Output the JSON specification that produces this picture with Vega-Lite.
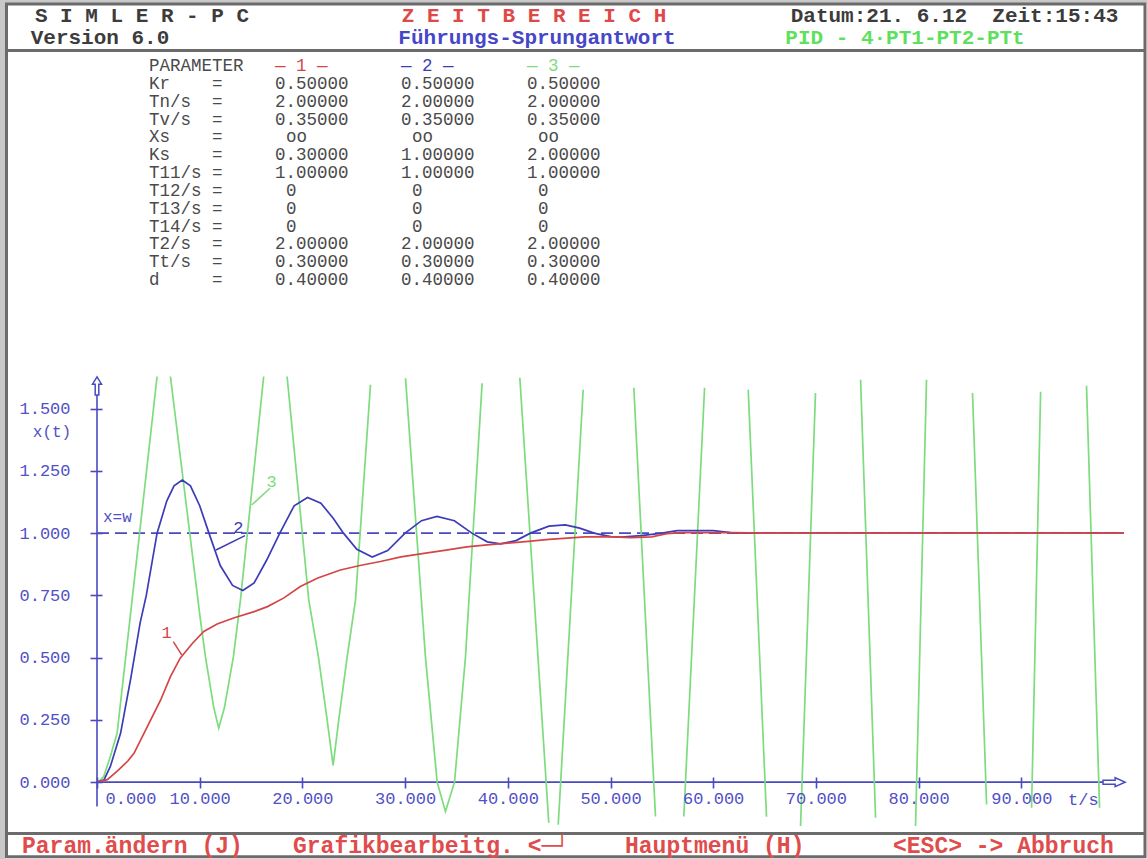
{
  "$schema": "https://vega.github.io/schema/vega-lite/v6.json",
  "width": 1027,
  "height": 450,
  "autosize": {"type": "none"},
  "padding": {"left": 97, "top": 376, "right": 23, "bottom": 33},
  "background": "white",
  "config": {"view": {"stroke": null}},
  "datasets": {
    "curves": [
      {"series": "3", "t": 0, "value": 0},
      {"series": "3", "t": 0.33, "value": 0.009},
      {"series": "3", "t": 0.65, "value": 0.022},
      {"series": "3", "t": 1.3, "value": 0.103},
      {"series": "3", "t": 1.96, "value": 0.197},
      {"series": "3", "t": 3.42, "value": 0.732},
      {"series": "3", "t": 5.85, "value": 1.629},
      {"series": "3", "t": 6.5, "value": null},
      {"series": "3", "t": 7.15, "value": 1.629},
      {"series": "3", "t": 10.07, "value": 0.652},
      {"series": "3", "t": 10.56, "value": 0.503},
      {"series": "3", "t": 11.37, "value": 0.3},
      {"series": "3", "t": 11.85, "value": 0.217},
      {"series": "3", "t": 12.41, "value": 0.3},
      {"series": "3", "t": 13.28, "value": 0.503},
      {"series": "3", "t": 13.97, "value": 0.732},
      {"series": "3", "t": 16.23, "value": 1.629},
      {"series": "3", "t": 17.37, "value": null},
      {"series": "3", "t": 18.51, "value": 1.629},
      {"series": "3", "t": 20.62, "value": 0.732},
      {"series": "3", "t": 21.56, "value": 0.503},
      {"series": "3", "t": 22.41, "value": 0.25},
      {"series": "3", "t": 22.99, "value": 0.067},
      {"series": "3", "t": 23.54, "value": 0.25},
      {"series": "3", "t": 24.36, "value": 0.503},
      {"series": "3", "t": 25.17, "value": 0.732},
      {"series": "3", "t": 26.63, "value": 1.596},
      {"series": "3", "t": 28.33, "value": null},
      {"series": "3", "t": 30.04, "value": 1.622},
      {"series": "3", "t": 31.98, "value": 0.503},
      {"series": "3", "t": 33.12, "value": 0},
      {"series": "3", "t": 33.93, "value": -0.118},
      {"series": "3", "t": 34.81, "value": 0},
      {"series": "3", "t": 35.88, "value": 0.503},
      {"series": "3", "t": 37.5, "value": 1.602},
      {"series": "3", "t": 39.34, "value": null},
      {"series": "3", "t": 41.17, "value": 1.624},
      {"series": "3", "t": 43.99, "value": -0.163},
      {"series": "3", "t": 44.45, "value": null},
      {"series": "3", "t": 44.91, "value": -0.171},
      {"series": "3", "t": 47.34, "value": 1.576},
      {"series": "3", "t": 50.29, "value": null},
      {"series": "3", "t": 52.27, "value": 1.584},
      {"series": "3", "t": 54.38, "value": -0.138},
      {"series": "3", "t": 55.75, "value": null},
      {"series": "3", "t": 57.14, "value": -0.138},
      {"series": "3", "t": 59.16, "value": 1.584},
      {"series": "3", "t": 61.29, "value": null},
      {"series": "3", "t": 63.41, "value": 1.576},
      {"series": "3", "t": 65.19, "value": -0.139},
      {"series": "3", "t": 66.8, "value": null},
      {"series": "3", "t": 68.5, "value": -0.183},
      {"series": "3", "t": 69.96, "value": 1.563},
      {"series": "3", "t": 72.3, "value": null},
      {"series": "3", "t": 74.35, "value": 1.616},
      {"series": "3", "t": 75.81, "value": -0.143},
      {"series": "3", "t": 77.8, "value": null},
      {"series": "3", "t": 79.7, "value": -0.179},
      {"series": "3", "t": 80.77, "value": 1.616},
      {"series": "3", "t": 83.2, "value": null},
      {"series": "3", "t": 85.25, "value": 1.563},
      {"series": "3", "t": 86.62, "value": -0.09},
      {"series": "3", "t": 88.8, "value": null},
      {"series": "3", "t": 91.0, "value": -0.103},
      {"series": "3", "t": 91.88, "value": 1.568},
      {"series": "3", "t": 94.2, "value": null},
      {"series": "3", "t": 96.35, "value": 1.592},
      {"series": "3", "t": 97.62, "value": -0.103},
      {"series": "2", "t": 0, "value": 0},
      {"series": "2", "t": 0.7, "value": 0.01},
      {"series": "2", "t": 1.3, "value": 0.063},
      {"series": "2", "t": 2.3, "value": 0.197},
      {"series": "2", "t": 3.3, "value": 0.42},
      {"series": "2", "t": 4.2, "value": 0.64},
      {"series": "2", "t": 4.8, "value": 0.75},
      {"series": "2", "t": 5.85, "value": 1.0},
      {"series": "2", "t": 6.8, "value": 1.13},
      {"series": "2", "t": 7.5, "value": 1.19},
      {"series": "2", "t": 8.3, "value": 1.213},
      {"series": "2", "t": 9.1, "value": 1.19},
      {"series": "2", "t": 10.0, "value": 1.11},
      {"series": "2", "t": 10.9, "value": 1.0},
      {"series": "2", "t": 12.0, "value": 0.87},
      {"series": "2", "t": 13.2, "value": 0.79},
      {"series": "2", "t": 14.2, "value": 0.77},
      {"series": "2", "t": 15.3, "value": 0.8},
      {"series": "2", "t": 16.5, "value": 0.89},
      {"series": "2", "t": 17.8, "value": 1.0},
      {"series": "2", "t": 19.2, "value": 1.11},
      {"series": "2", "t": 20.5, "value": 1.143},
      {"series": "2", "t": 21.8, "value": 1.12},
      {"series": "2", "t": 23.0, "value": 1.06},
      {"series": "2", "t": 24.0, "value": 1.0},
      {"series": "2", "t": 25.3, "value": 0.935},
      {"series": "2", "t": 26.8, "value": 0.904},
      {"series": "2", "t": 28.3, "value": 0.93},
      {"series": "2", "t": 30.0, "value": 1.0},
      {"series": "2", "t": 31.6, "value": 1.05},
      {"series": "2", "t": 33.1, "value": 1.067},
      {"series": "2", "t": 34.8, "value": 1.05},
      {"series": "2", "t": 36.5, "value": 1.0},
      {"series": "2", "t": 38.0, "value": 0.965},
      {"series": "2", "t": 39.3, "value": 0.957},
      {"series": "2", "t": 40.8, "value": 0.97},
      {"series": "2", "t": 42.2, "value": 1.0},
      {"series": "2", "t": 44.0, "value": 1.028},
      {"series": "2", "t": 45.6, "value": 1.033},
      {"series": "2", "t": 47.0, "value": 1.02},
      {"series": "2", "t": 48.4, "value": 1.0},
      {"series": "2", "t": 50.0, "value": 0.986},
      {"series": "2", "t": 51.0, "value": 0.984},
      {"series": "2", "t": 53.0, "value": 0.99},
      {"series": "2", "t": 55.0, "value": 1.0},
      {"series": "2", "t": 56.5, "value": 1.01},
      {"series": "2", "t": 60.0, "value": 1.01},
      {"series": "2", "t": 61.7, "value": 1.002},
      {"series": "2", "t": 63.0, "value": 1.0},
      {"series": "2", "t": 70.0, "value": 1.0},
      {"series": "2", "t": 80.0, "value": 1.0},
      {"series": "2", "t": 90.0, "value": 1.0},
      {"series": "2", "t": 100.0, "value": 1.0},
      {"series": "1", "t": 0, "value": 0},
      {"series": "1", "t": 1.0, "value": 0.01},
      {"series": "1", "t": 2.0, "value": 0.045},
      {"series": "1", "t": 3.0, "value": 0.085},
      {"series": "1", "t": 3.6, "value": 0.116},
      {"series": "1", "t": 4.9, "value": 0.223},
      {"series": "1", "t": 6.2, "value": 0.33},
      {"series": "1", "t": 7.15, "value": 0.424},
      {"series": "1", "t": 8.1, "value": 0.498},
      {"series": "1", "t": 9.3, "value": 0.558},
      {"series": "1", "t": 10.4, "value": 0.605},
      {"series": "1", "t": 11.7, "value": 0.635},
      {"series": "1", "t": 13.3, "value": 0.659},
      {"series": "1", "t": 15.3, "value": 0.685},
      {"series": "1", "t": 16.6, "value": 0.705},
      {"series": "1", "t": 18.2, "value": 0.74},
      {"series": "1", "t": 19.8, "value": 0.786},
      {"series": "1", "t": 21.5, "value": 0.82},
      {"series": "1", "t": 23.7, "value": 0.852},
      {"series": "1", "t": 25.6, "value": 0.87},
      {"series": "1", "t": 27.6, "value": 0.886},
      {"series": "1", "t": 29.6, "value": 0.905},
      {"series": "1", "t": 32.0, "value": 0.92},
      {"series": "1", "t": 34.0, "value": 0.932},
      {"series": "1", "t": 36.0, "value": 0.945},
      {"series": "1", "t": 38.0, "value": 0.953},
      {"series": "1", "t": 40.0, "value": 0.96},
      {"series": "1", "t": 42.0, "value": 0.967},
      {"series": "1", "t": 44.0, "value": 0.975},
      {"series": "1", "t": 45.8, "value": 0.98},
      {"series": "1", "t": 47.5, "value": 0.985},
      {"series": "1", "t": 49.7, "value": 0.986},
      {"series": "1", "t": 52.0, "value": 0.982},
      {"series": "1", "t": 54.0, "value": 0.985},
      {"series": "1", "t": 55.5, "value": 0.998},
      {"series": "1", "t": 57.0, "value": 1.002},
      {"series": "1", "t": 62.0, "value": 1.002},
      {"series": "1", "t": 65.0, "value": 1.0},
      {"series": "1", "t": 75.0, "value": 1.0},
      {"series": "1", "t": 85.0, "value": 1.0},
      {"series": "1", "t": 100.0, "value": 1.0}
    ],
    "params": [
      {"param": "PARAMETER", "series": "1", "value": "— 1 —"},
      {"param": "PARAMETER", "series": "2", "value": "— 2 —"},
      {"param": "PARAMETER", "series": "3", "value": "— 3 —"},
      {"param": "Kr", "series": "1", "value": "0.50000"},
      {"param": "Kr", "series": "2", "value": "0.50000"},
      {"param": "Kr", "series": "3", "value": "0.50000"},
      {"param": "Tn/s", "series": "1", "value": "2.00000"},
      {"param": "Tn/s", "series": "2", "value": "2.00000"},
      {"param": "Tn/s", "series": "3", "value": "2.00000"},
      {"param": "Tv/s", "series": "1", "value": "0.35000"},
      {"param": "Tv/s", "series": "2", "value": "0.35000"},
      {"param": "Tv/s", "series": "3", "value": "0.35000"},
      {"param": "Xs", "series": "1", "value": "oo"},
      {"param": "Xs", "series": "2", "value": "oo"},
      {"param": "Xs", "series": "3", "value": "oo"},
      {"param": "Ks", "series": "1", "value": "0.30000"},
      {"param": "Ks", "series": "2", "value": "1.00000"},
      {"param": "Ks", "series": "3", "value": "2.00000"},
      {"param": "T11/s", "series": "1", "value": "1.00000"},
      {"param": "T11/s", "series": "2", "value": "1.00000"},
      {"param": "T11/s", "series": "3", "value": "1.00000"},
      {"param": "T12/s", "series": "1", "value": "0"},
      {"param": "T12/s", "series": "2", "value": "0"},
      {"param": "T12/s", "series": "3", "value": "0"},
      {"param": "T13/s", "series": "1", "value": "0"},
      {"param": "T13/s", "series": "2", "value": "0"},
      {"param": "T13/s", "series": "3", "value": "0"},
      {"param": "T14/s", "series": "1", "value": "0"},
      {"param": "T14/s", "series": "2", "value": "0"},
      {"param": "T14/s", "series": "3", "value": "0"},
      {"param": "T2/s", "series": "1", "value": "2.00000"},
      {"param": "T2/s", "series": "2", "value": "2.00000"},
      {"param": "T2/s", "series": "3", "value": "2.00000"},
      {"param": "Tt/s", "series": "1", "value": "0.30000"},
      {"param": "Tt/s", "series": "2", "value": "0.30000"},
      {"param": "Tt/s", "series": "3", "value": "0.30000"},
      {"param": "d", "series": "1", "value": "0.40000"},
      {"param": "d", "series": "2", "value": "0.40000"},
      {"param": "d", "series": "3", "value": "0.40000"}
    ]
  },
  "layer": [
    {
      "layer": [
        {"data": {"values": [{}]}, "mark": {"type": "rule", "color": "#c8c8c8", "strokeWidth": 5},
         "encoding": {
           "x": {"datum": -9.201,
                 "axis": {"zindex": 2, "values": [0, 10, 20, 30, 40, 50, 60, 70, 80, 90], "format": ".3f", "domain": false, "grid": false, "offset": -49, "tickSize": 11, "tickColor": "#4a4ac0", "tickWidth": 1.6, "labelFont": "Liberation Mono", "labelFontSize": 17, "labelColor": "#5050c8", "labelPadding": 2, "labelBaseline": "top", "labelFlush": false, "labelOverlap": false,
                          "labelAlign": {"condition": {"test": "datum.value === 0", "value": "left"}, "value": "center"},
                          "labelOffset": {"condition": {"test": "datum.value === 0", "value": 8}, "value": 0},
                          "title": null}},
           "y": {"datum": 3.135,
                 "axis": {"zindex": 2, "values": [0, 0.25, 0.5, 0.75, 1.0, 1.25, 1.5], "format": ".3f", "domain": false, "grid": false, "offset": -5, "tickSize": 12, "tickColor": "#4a4ac0", "tickWidth": 1.6, "labelFont": "Liberation Mono", "labelFontSize": 17, "labelColor": "#5050c8", "labelPadding": 20, "labelOverlap": false, "title": null}},
           "y2": {"datum": -0.3119}}},
        {"data": {"values": [{}]}, "mark": {"type": "rule", "color": "#c8c8c8", "strokeWidth": 3},
         "encoding": {"x": {"datum": -9.445}, "x2": {"datum": 102.24}, "y": {"datum": 3.135}}},
        {"data": {"values": [{}]}, "mark": {"type": "rect", "fill": null, "stroke": "#6b6b6b", "strokeWidth": 3},
         "encoding": {"x": {"datum": -8.812}, "x2": {"datum": 102.045}, "y": {"datum": 3.1249}, "y2": {"datum": -0.2992}}},
        {"data": {"values": [{}]}, "mark": {"type": "rule", "color": "#6b6b6b", "strokeWidth": 3},
         "encoding": {"x": {"datum": -8.812}, "x2": {"datum": 102.045}, "y": {"datum": 2.9382}}},
        {"data": {"values": [{}]}, "mark": {"type": "rule", "color": "#6b6b6b", "strokeWidth": 3},
         "encoding": {"x": {"datum": -8.812}, "x2": {"datum": 102.045}, "y": {"datum": -0.206}}},
        {"data": {"values": [{}]}, "mark": {"type": "text", "align": "center", "baseline": "middle", "font": "Liberation Mono", "fontSize": 21, "fontWeight": "bold", "color": "#3c3c3c", "text": "S I M L E R - P C"},
         "encoding": {"x": {"datum": 4.382}, "y": {"datum": 3.0747}}},
        {"data": {"values": [{}]}, "mark": {"type": "text", "align": "center", "baseline": "middle", "font": "Liberation Mono", "fontSize": 21, "fontWeight": "bold", "color": "#3c3c3c", "text": "Version 6.0"},
         "encoding": {"x": {"datum": 0.292}, "y": {"datum": 2.9864}}},
        {"data": {"values": [{}]}, "mark": {"type": "text", "align": "center", "baseline": "middle", "font": "Liberation Mono", "fontSize": 21, "fontWeight": "bold", "color": "#e04848", "text": "Z E I T B E R E I C H"},
         "encoding": {"x": {"datum": 42.552}, "y": {"datum": 3.0747}}},
        {"data": {"values": [{}]}, "mark": {"type": "text", "align": "center", "baseline": "middle", "font": "Liberation Mono", "fontSize": 21, "fontWeight": "bold", "color": "#4646c8", "text": "Führungs-Sprungantwort"},
         "encoding": {"x": {"datum": 42.843}, "y": {"datum": 2.9864}}},
        {"data": {"values": [{}]}, "mark": {"type": "text", "align": "center", "baseline": "middle", "font": "Liberation Mono", "fontSize": 21, "fontWeight": "bold", "color": "#3c3c3c", "text": "Datum:21. 6.12\u00a0\u00a0Zeit:15:43"},
         "encoding": {"x": {"datum": 83.496}, "y": {"datum": 3.0747}}},
        {"data": {"values": [{}]}, "mark": {"type": "text", "align": "center", "baseline": "middle", "font": "Liberation Mono", "fontSize": 21, "fontWeight": "bold", "color": "#5ee05e", "text": "PID - 4·PT1-PT2-PTt"},
         "encoding": {"x": {"datum": 78.676}, "y": {"datum": 2.9864}}},
        {"data": {"values": [{}]}, "mark": {"type": "text", "align": "left", "baseline": "middle", "font": "Liberation Mono", "fontSize": 23, "fontWeight": "bold", "color": "#e04c4c", "text": "Param.ändern (J)"},
         "encoding": {"x": {"datum": -7.303}, "y": {"datum": -0.2562}}},
        {"data": {"values": [{}]}, "mark": {"type": "text", "align": "left", "baseline": "middle", "font": "Liberation Mono", "fontSize": 23, "fontWeight": "bold", "color": "#e04c4c", "text": "Grafikbearbeitg. <─┘"},
         "encoding": {"x": {"datum": 19.085}, "y": {"datum": -0.2562}}},
        {"data": {"values": [{}]}, "mark": {"type": "text", "align": "left", "baseline": "middle", "font": "Liberation Mono", "fontSize": 23, "fontWeight": "bold", "color": "#e04c4c", "text": "Hauptmenü (H)"},
         "encoding": {"x": {"datum": 51.412}, "y": {"datum": -0.2562}}},
        {"data": {"values": [{}]}, "mark": {"type": "text", "align": "left", "baseline": "middle", "font": "Liberation Mono", "fontSize": 23, "fontWeight": "bold", "color": "#e04c4c", "text": "<ESC> -> Abbruch"},
         "encoding": {"x": {"datum": 77.507}, "y": {"datum": -0.2562}}},
        {"data": {"values": [{}]}, "mark": {"type": "rule", "color": "#4a4ac0", "strokeWidth": 1.6, "strokeDash": [12, 6]},
         "encoding": {"x": {"datum": 0}, "x2": {"datum": 100}, "y": {"datum": 1}}},
        {"data": {"values": [{}]}, "mark": {"type": "rule", "color": "#4a4ac0", "strokeWidth": 1.6},
         "encoding": {"x": {"datum": 0}, "y": {"datum": -0.098}, "y2": {"datum": 1.555}}},
        {"data": {"values": [{}]}, "mark": {"type": "rule", "color": "#4a4ac0", "strokeWidth": 1.6},
         "encoding": {"x": {"datum": 0}, "x2": {"datum": 97.96}, "y": {"datum": 0}}},
        {"data": {"values": [{}]}, "mark": {"type": "point", "shape": "M0,-1L0.5,-0.2L0.2,-0.2L0.2,1L-0.2,1L-0.2,-0.2L-0.5,-0.2Z", "size": 324, "filled": false, "stroke": "#4a4ac0", "strokeWidth": 1.5, "opacity": 1},
         "encoding": {"x": {"datum": 0}, "y": {"datum": 1.591}}},
        {"data": {"values": [{}]}, "mark": {"type": "point", "shape": "M1,0L0.1,-0.4L0.1,-0.18L-1,-0.18L-1,0.18L0.1,0.18L0.1,0.4Z", "size": 484, "filled": false, "stroke": "#4a4ac0", "strokeWidth": 1.5, "opacity": 1},
         "encoding": {"x": {"datum": 99.03}, "y": {"datum": 0}}},
        {"data": {"name": "curves"},
         "mark": {"type": "line", "clip": true, "strokeWidth": 1.7, "invalid": "break-paths-filter-domains"},
         "encoding": {
           "x": {"field": "t", "type": "quantitative", "scale": {"domain": [0, 100], "nice": false, "zero": false}},
           "y": {"field": "value", "type": "quantitative", "scale": {"domain": [-0.176, 1.631], "nice": false, "zero": false}},
           "color": {"field": "series", "type": "nominal", "scale": {"domain": ["1", "2", "3"], "range": ["#d44646", "#3c3cb8", "#7ddc7d"]}, "legend": null}
         }},
        {"data": {"values": [{}]}, "mark": {"type": "text", "align": "center", "baseline": "middle", "font": "Liberation Mono", "fontSize": 16, "color": "#5050c8", "text": "x(t)"},
         "encoding": {"x": {"datum": -4.382}, "y": {"datum": 1.4063}}},
        {"data": {"values": [{}]}, "mark": {"type": "text", "align": "left", "baseline": "middle", "font": "Liberation Mono", "fontSize": 16, "color": "#5050c8", "text": "x=w"},
         "encoding": {"x": {"datum": 0.584}, "y": {"datum": 1.0652}}},
        {"data": {"values": [{}]}, "mark": {"type": "text", "align": "left", "baseline": "middle", "font": "Liberation Mono", "fontSize": 17, "color": "#5050c8", "text": "t/s"},
         "encoding": {"x": {"datum": 94.547}, "y": {"datum": -0.0715}}},
        {"data": {"values": [{}]}, "mark": {"type": "text", "align": "center", "baseline": "middle", "font": "Liberation Mono", "fontSize": 17, "color": "#d44646", "text": "1"},
         "encoding": {"x": {"datum": 6.787}, "y": {"datum": 0.598}}},
        {"data": {"values": [{}]}, "mark": {"type": "rule", "color": "#d44646", "strokeWidth": 1.5},
         "encoding": {"x": {"datum": 7.429}, "x2": {"datum": 8.247}, "y": {"datum": 0.5642}, "y2": {"datum": 0.5108}}},
        {"data": {"values": [{}]}, "mark": {"type": "text", "align": "center", "baseline": "middle", "font": "Liberation Mono", "fontSize": 17, "color": "#3c3cb8", "text": "2"},
         "encoding": {"x": {"datum": 13.758}, "y": {"datum": 1.0196}}},
        {"data": {"values": [{}]}, "mark": {"type": "rule", "color": "#3c3cb8", "strokeWidth": 1.5},
         "encoding": {"x": {"datum": 11.587}, "x2": {"datum": 14.411}, "y": {"datum": 0.9324}, "y2": {"datum": 0.9898}}},
        {"data": {"values": [{}]}, "mark": {"type": "text", "align": "center", "baseline": "middle", "font": "Liberation Mono", "fontSize": 17, "color": "#7ddc7d", "text": "3"},
         "encoding": {"x": {"datum": 17.011}, "y": {"datum": 1.2067}}},
        {"data": {"values": [{}]}, "mark": {"type": "rule", "color": "#7ddc7d", "strokeWidth": 1.5},
         "encoding": {"x": {"datum": 15.063}, "x2": {"datum": 16.845}, "y": {"datum": 1.1131}, "y2": {"datum": 1.1802}}}
      ]
    },
    {
      "data": {"name": "params"},
      "layer": [
        {"transform": [{"filter": "datum.series === '1'"}],
         "mark": {"type": "text", "align": "left", "baseline": "middle", "font": "Liberation Mono", "fontSize": 17.5, "color": "#4a4a4a"},
         "encoding": {
           "x": {"datum": "name", "type": "nominal", "scale": {"type": "point", "domain": ["name", "eq", "1", "g1", "2", "g2", "3"], "range": [52, 430], "padding": 0}, "axis": null},
           "y": {"field": "param", "type": "nominal", "scale": {"type": "point", "domain": ["PARAMETER", "Kr", "Tn/s", "Tv/s", "Xs", "Ks", "T11/s", "T12/s", "T13/s", "T14/s", "T2/s", "Tt/s", "d"], "range": [-310, -96], "padding": 0}, "axis": null},
           "text": {"field": "param"}
         }},
        {"transform": [{"filter": "datum.series === '1' && datum.param !== 'PARAMETER'"}],
         "mark": {"type": "text", "align": "left", "baseline": "middle", "font": "Liberation Mono", "fontSize": 17.5, "color": "#4a4a4a", "text": "="},
         "encoding": {
           "x": {"datum": "eq", "type": "nominal", "axis": null},
           "y": {"field": "param", "type": "nominal", "axis": null}
         }},
        {"transform": [{"filter": "datum.value !== 'oo' && datum.value !== '0'"}],
         "mark": {"type": "text", "align": "left", "baseline": "middle", "font": "Liberation Mono", "fontSize": 17.5},
         "encoding": {
           "x": {"field": "series", "type": "nominal", "axis": null},
           "y": {"field": "param", "type": "nominal", "axis": null},
           "text": {"field": "value"},
           "color": {"condition": {"test": "datum.param === 'PARAMETER'", "field": "series", "type": "nominal", "legend": null}, "value": "#4a4a4a"}
         }},
        {"transform": [{"filter": "datum.value === 'oo' || datum.value === '0'"}],
         "mark": {"type": "text", "align": "left", "baseline": "middle", "font": "Liberation Mono", "fontSize": 17.5, "color": "#4a4a4a", "dx": 11},
         "encoding": {
           "x": {"field": "series", "type": "nominal", "axis": null},
           "y": {"field": "param", "type": "nominal", "axis": null},
           "text": {"field": "value"}
         }}
      ]
    }
  ],
  "resolve": {"scale": {"x": "independent", "y": "independent"}}
}
